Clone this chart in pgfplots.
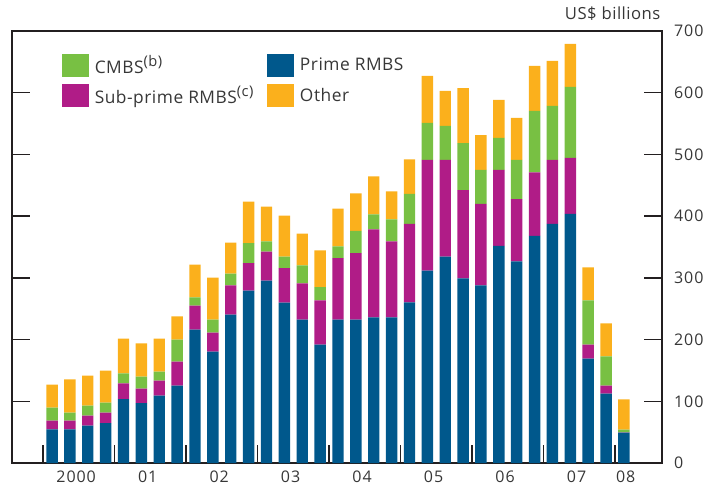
\documentclass[border=0pt]{standalone}
\usepackage{pgfplots}
\pgfplotsset{compat=1.18}
\usepackage{pgfplotstable}
\usepackage{fontspec}
\setmainfont{Open Sans}
\newfontfamily\tickfont{Open Sans}[LetterSpace=6]
\newfontfamily\legfont{Open Sans}[LetterSpace=3]
\definecolor{prime}{RGB}{0,88,140}
\definecolor{subp}{RGB}{176,28,135}
\definecolor{cmbs}{RGB}{120,192,67}
\definecolor{other}{RGB}{251,176,28}
\definecolor{txt}{RGB}{55,55,55}
\definecolor{axc}{RGB}{35,31,32}
\newcommand{\supnote}[1]{\raisebox{0.42em}{\fontsize{11}{12}\selectfont #1}}

\pgfplotstableread{
x P S C O
0 54.6 14.0 21.0 37.3
1 54.6 14.0 12.9 54.1
2 60.5 16.2 16.2 48.6
3 64.8 16.7 16.2 51.9
4 103.7 25.5 16.2 56.1
5 97.2 23.2 19.5 54.1
6 109.1 24.3 14.6 53.5
7 125.3 38.9 35.6 37.9
8 216.1 38.9 13.5 52.9
9 180.4 30.8 21.1 68.0
10 240.4 47.6 18.8 50.3
11 279.3 44.4 32.4 67.4
12 295.5 47.0 16.8 56.1
13 259.8 55.8 18.8 66.4
14 232.3 58.9 29.2 51.2
15 191.7 72.0 21.1 59.9
16 232.3 99.5 19.4 61.0
17 232.3 107.6 36.1 61.1
18 236.1 142.6 24.3 61.6
19 236.1 123.2 35.6 45.4
20 260.4 127.0 48.6 56.2
21 311.7 179.4 59.9 76.2
22 334.4 156.7 55.1 56.7
23 299.3 142.7 76.2 89.1
24 288.0 131.8 55.1 56.2
25 351.7 123.2 51.8 61.6
26 326.9 100.5 63.7 68.1
27 367.9 103.2 99.4 72.9
28 387.4 103.7 87.5 72.9
29 403.6 90.7 115.1 69.7
30 169.1 22.6 72.0 53.5
31 112.3 13.0 47.6 53.5
32 49.1 0.5 4.4 49.2
}\data

\begin{document}
\begin{tikzpicture}
\path[use as bounding box] (-9pt,-20.25pt) rectangle (525.75pt,347.25pt);
\begin{axis}[
  at={(0pt,0pt)}, anchor=south west, name=ax,
  scale only axis, width=487.5pt, height=324pt,
  ybar stacked, bar width=0.64,
  xmin=-2.24, xmax=34.13, ymin=0, ymax=700,
  xtick={-0.5,3.5,...,31.5}, xticklabels={},
  extra x ticks={1.35,5.35,9.35,13.35,17.35,21.35,25.35,29.35,32.1},
  extra x tick labels={2000,01,02,03,04,05,06,07,08},
  extra x tick style={major tick length=0pt},
  xtick pos=bottom,
  ytick={0,100,...,700},
  ytick pos=both, yticklabel pos=right,
  tick align=inside, major tick length=13.5pt,
  axis line style={line width=1.3pt, color=axc},
  tick style={line width=1.1pt, color=axc},
  /pgf/number format/assume math mode=true,
  ticklabel style={font=\tickfont\fontsize{12}{14}\selectfont, text=txt},
  yticklabel style={xshift=5.5pt},
  xticklabel style={yshift=-2.5pt},
  legend columns=2,
  legend cell align=left,
  legend style={at={(0.0769,0.949)}, anchor=north west, draw=none, fill=none,
    inner sep=0pt, row sep=4.5pt,
    font=\legfont\fontsize{13}{15}\selectfont, text=txt,
    nodes={inner sep=1.5pt},
    /tikz/every odd column/.append style={column sep=3pt},
    /tikz/every even column/.append style={column sep=9pt}},
]
\addlegendimage{legend image code/.code={\fill[cmbs] (0pt,-8.25pt) rectangle (19.5pt,8.25pt);}}
\addlegendentry{CMBS\supnote{(b)}}
\addlegendimage{legend image code/.code={\fill[prime] (0pt,-8.25pt) rectangle (19.5pt,8.25pt);}}
\addlegendentry{Prime RMBS}
\addlegendimage{legend image code/.code={\fill[subp] (0pt,-8.25pt) rectangle (19.5pt,8.25pt);}}
\addlegendentry{Sub-prime RMBS\supnote{(c)}}
\addlegendimage{legend image code/.code={\fill[other] (0pt,-8.25pt) rectangle (19.5pt,8.25pt);}}
\addlegendentry{Other}
\addplot[fill=prime, draw=none] table[x=x,y=P]{\data};
\addplot[fill=subp, draw=none] table[x=x,y=S]{\data};
\addplot[fill=cmbs, draw=none] table[x=x,y=C]{\data};
\addplot[fill=other, draw=none] table[x=x,y=O]{\data};
\end{axis}
\node[anchor=base east, inner sep=0pt, font=\legfont\fontsize{12.5}{14}\selectfont, text=txt] at ([yshift=8.5pt, xshift=-1pt]ax.north east) {US\$ billions};
\end{tikzpicture}
\end{document}
